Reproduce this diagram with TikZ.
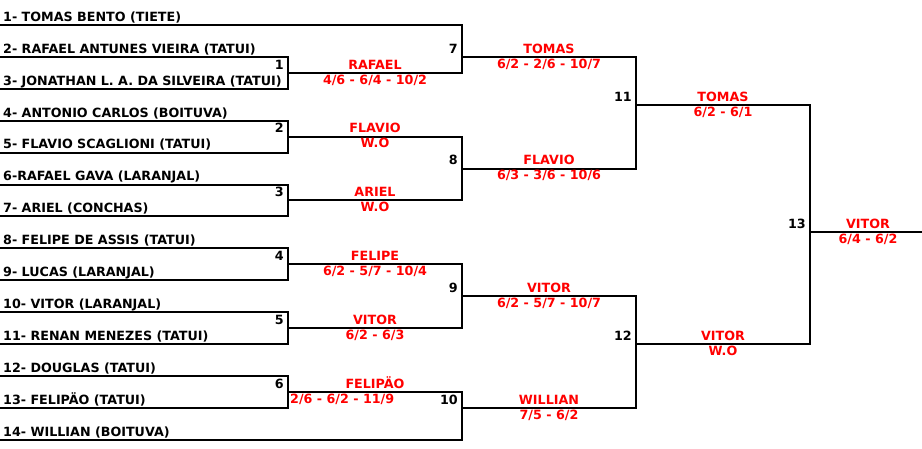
\documentclass[tikz,border=0pt]{standalone}
\usepackage{fontspec}
\setmainfont{DejaVu Sans}
\begin{document}
\begin{tikzpicture}[x=1pt,y=-1pt,
  wire/.style={line width=2pt,line join=miter,line cap=rect},
  brtext/.style={inner sep=0pt,font=\fontsize{12.7}{15}\selectfont\bfseries},
  pname/.style={brtext,anchor=base west},
  mnum/.style={brtext,anchor=base east},
  win/.style={brtext,anchor=base,text=red},
  score/.style={brtext,anchor=base,text=red}]
\useasboundingbox (0,0) rectangle (922,448);
% player line starts
\foreach \k in {1,...,14}{\coordinate (p\k) at (0,{25+(\k-1)*31.9});}
% match in/out points
\coordinate (m1in) at (288,72.85);   \coordinate (m1out) at (462,72.85);
\coordinate (m2in) at (288,136.65);  \coordinate (m2out) at (462,136.65);
\coordinate (m3in) at (288,200.45);  \coordinate (m3out) at (462,200.45);
\coordinate (m4in) at (288,264.25);  \coordinate (m4out) at (462,264.25);
\coordinate (m5in) at (288,328.05);  \coordinate (m5out) at (462,328.05);
\coordinate (m6in) at (288,391.85);  \coordinate (m6out) at (462,391.85);
\coordinate (m7in) at (462,56.9);    \coordinate (m7out) at (636,56.9);
\coordinate (m8in) at (462,168.55);  \coordinate (m8out) at (636,168.55);
\coordinate (m9in) at (462,296.15);  \coordinate (m9out) at (636,296.15);
\coordinate (m10in) at (462,407.8);  \coordinate (m10out) at (636,407.8);
\coordinate (m11in) at (636,104.75); \coordinate (m11out) at (810,104.75);
\coordinate (m12in) at (636,344);    \coordinate (m12out) at (810,344);
\coordinate (m13in) at (810,232.35); \coordinate (m13out) at (922,232.35);

% round 1
\draw[wire] (p2) -| (m1in) -- (m1out);  \draw[wire] (p3) -| (m1in);
\draw[wire] (p4) -| (m2in) -- (m2out);  \draw[wire] (p5) -| (m2in);
\draw[wire] (p6) -| (m3in) -- (m3out);  \draw[wire] (p7) -| (m3in);
\draw[wire] (p8) -| (m4in) -- (m4out);  \draw[wire] (p9) -| (m4in);
\draw[wire] (p10) -| (m5in) -- (m5out); \draw[wire] (p11) -| (m5in);
\draw[wire] (p12) -| (m6in) -- (m6out); \draw[wire] (p13) -| (m6in);
% round 2
\draw[wire] (p1) -| (m7in) -- (m7out);   \draw[wire] (m1out) -| (m7in);
\draw[wire] (m2out) -| (m8in) -- (m8out); \draw[wire] (m3out) -| (m8in);
\draw[wire] (m4out) -| (m9in) -- (m9out); \draw[wire] (m5out) -| (m9in);
\draw[wire] (m6out) -| (m10in) -- (m10out); \draw[wire] (p14) -| (m10in);
% round 3
\draw[wire] (m7out) -| (m11in) -- (m11out); \draw[wire] (m8out) -| (m11in);
\draw[wire] (m9out) -| (m12in) -- (m12out); \draw[wire] (m10out) -| (m12in);
% final
\draw[wire] (m11out) -| (m13in) -- (m13out); \draw[wire] (m12out) -| (m13in);

% player names
\node[pname] (n1)  at ([shift={(3,-3.7)}]p1)  {1- TOMAS BENTO (TIETE)};
\node[pname] (n2)  at ([shift={(3,-3.7)}]p2)  {2- RAFAEL ANTUNES VIEIRA (TATUI)};
\node[pname] (n3)  at ([shift={(3,-3.7)}]p3)  {3- JONATHAN L. A. DA SILVEIRA (TATUI)};
\node[pname] (n4)  at ([shift={(3,-3.7)}]p4)  {4- ANTONIO CARLOS (BOITUVA)};
\node[pname] (n5)  at ([shift={(3,-3.7)}]p5)  {5- FLAVIO SCAGLIONI (TATUI)};
\node[pname] (n6)  at ([shift={(3,-3.7)}]p6)  {6-RAFAEL GAVA (LARANJAL)};
\node[pname] (n7)  at ([shift={(3,-3.7)}]p7)  {7- ARIEL (CONCHAS)};
\node[pname] (n8)  at ([shift={(3,-3.7)}]p8)  {8- FELIPE DE ASSIS (TATUI)};
\node[pname] (n9)  at ([shift={(3,-3.7)}]p9)  {9- LUCAS (LARANJAL)};
\node[pname] (n10) at ([shift={(3,-3.7)}]p10) {10- VITOR (LARANJAL)};
\node[pname] (n11) at ([shift={(3,-3.7)}]p11) {11- RENAN MENEZES (TATUI)};
\node[pname] (n12) at ([shift={(3,-3.7)}]p12) {12- DOUGLAS (TATUI)};
\node[pname] (n13) at ([shift={(3,-3.7)}]p13) {13- FELIPÄO (TATUI)};
\node[pname] (n14) at ([shift={(3,-3.7)}]p14) {14- WILLIAN (BOITUVA)};

% match numbers
\foreach \m in {1,...,13}{\node[mnum] (num\m) at ([shift={(-4,-3.7)}]m\m in) {\m};}

% winners and scores
\node[win] (w1) at ([shift={(87,-3.7)}]m1in) {RAFAEL};
\node[score] (s1) at ([shift={(87,11.3)}]m1in) {4/6 - 6/4 - 10/2};
\node[win] (w2) at ([shift={(87,-3.7)}]m2in) {FLAVIO};
\node[score] (s2) at ([shift={(87,11.3)}]m2in) {W.O};
\node[win] (w3) at ([shift={(87,-3.7)}]m3in) {ARIEL};
\node[score] (s3) at ([shift={(87,11.3)}]m3in) {W.O};
\node[win] (w4) at ([shift={(87,-3.7)}]m4in) {FELIPE};
\node[score] (s4) at ([shift={(87,11.3)}]m4in) {6/2 - 5/7 - 10/4};
\node[win] (w5) at ([shift={(87,-3.7)}]m5in) {VITOR};
\node[score] (s5) at ([shift={(87,11.3)}]m5in) {6/2 - 6/3};
\node[win] (w6) at ([shift={(87,-3.7)}]m6in) {FELIPÄO};
\node[score,anchor=base west] (s6) at ([shift={(2,11.3)}]m6in) {2/6 - 6/2 - 11/9};
\node[win] (w7) at ([shift={(87,-3.7)}]m7in) {TOMAS};
\node[score] (s7) at ([shift={(87,11.3)}]m7in) {6/2 - 2/6 - 10/7};
\node[win] (w8) at ([shift={(87,-3.7)}]m8in) {FLAVIO};
\node[score] (s8) at ([shift={(87,11.3)}]m8in) {6/3 - 3/6 - 10/6};
\node[win] (w9) at ([shift={(87,-3.7)}]m9in) {VITOR};
\node[score] (s9) at ([shift={(87,11.3)}]m9in) {6/2 - 5/7 - 10/7};
\node[win] (w10) at ([shift={(87,-3.7)}]m10in) {WILLIAN};
\node[score] (s10) at ([shift={(87,11.3)}]m10in) {7/5 - 6/2};
\node[win] (w11) at ([shift={(87,-3.7)}]m11in) {TOMAS};
\node[score] (s11) at ([shift={(87,11.3)}]m11in) {6/2 - 6/1};
\node[win] (w12) at ([shift={(87,-3.7)}]m12in) {VITOR};
\node[score] (s12) at ([shift={(87,11.3)}]m12in) {W.O};
\node[win] (w13) at ([shift={(58,-3.7)}]m13in) {VITOR};
\node[score] (s13) at ([shift={(58,11.3)}]m13in) {6/4 - 6/2};
\end{tikzpicture}
\end{document}
